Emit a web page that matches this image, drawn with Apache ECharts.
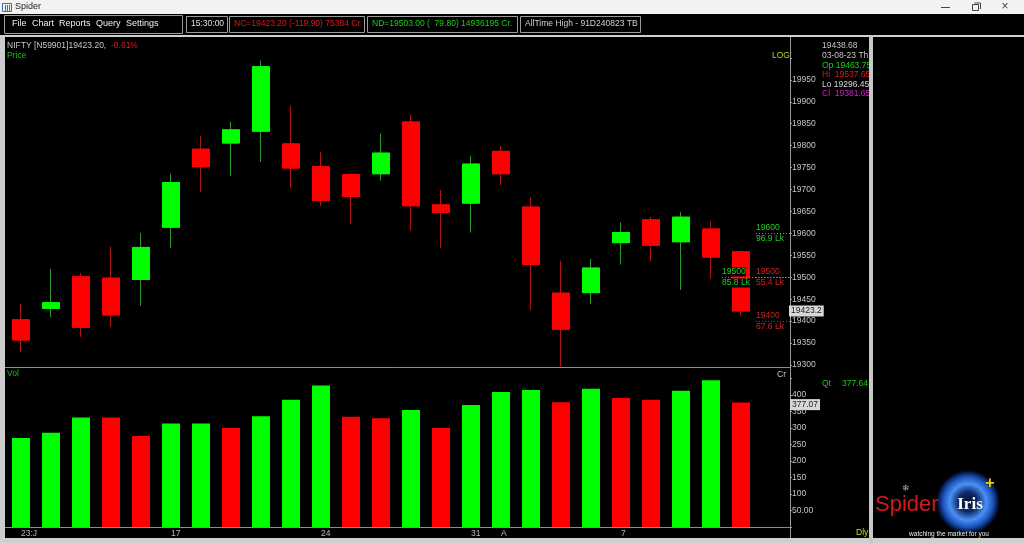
<!DOCTYPE html>
<html>
<head>
<meta charset="utf-8">
<title>Spider</title>
<script src="https://cdn.jsdelivr.net/npm/echarts@6/dist/echarts.min.js"></script>
<style>
html, body { margin: 0; padding: 0; background: #000; }
#main { width: 1024px; height: 543px; }
</style>
</head>
<body>
<div id="main"></div>
<script>
// NIFTY daily candles, 10 Jul 2023 - 11 Aug 2023
var days = ['10','11','12','13','14','17','18','19','20','21','24','25','26','27','28','31','1','2','3','4','7','8','9','10','11'];
var tickIdx = [0, 5, 10, 15, 16, 20];
var tickText = ['23:J', '17', '24', '31', 'A', '7'];

var opens  = [19403,19429,19501,19498,19495,19614,19792,19806,19833,19804,19752,19734,19736,19854,19665,19669,19787,19660,19463.75,19465,19579,19631,19581,19610,19558];
var closes = [19357,19442,19386,19414,19568,19716,19752,19836,19980,19749,19675,19684,19783,19663,19648,19758,19736,19529,19381.65,19521,19602,19573,19637,19546,19423.2];
var lows   = [19330,19409,19364,19387,19435,19567,19694,19731,19763,19704,19663,19621,19720,19606,19567,19602,19710,19425,19296.45,19439,19529,19536,19471,19497,19413];
var highs  = [19439,19519,19510,19570,19601,19736,19822,19855,19994,19891,19786,19738,19828,19871,19699,19777,19799,19682,19537.65,19542,19625,19638,19649,19627,19558];

// volume in Cr, and whether the bar is drawn as up (1) or down (0)
var volCr = [270,286,332,332,276,314,314,300,336,386,429,334,330,355,300,370,409,415,378,419,391,386,413,445,377.07];
var volUp = [1,1,1,0,0,1,1,0,1,1,1,0,0,1,0,1,1,1,0,1,0,0,1,1,0];

// traded-quantity levels at the right edge
var levelPrice = [19600, 19500, 19500, 19400];
var levelQty   = ['96.9 Lk', '85.8 Lk', '55.4 Lk', '67.6 Lk'];
var levelBuy   = [1, 1, 0, 0];

var infoIdx = 18;   // 03-08-23 candle shown in the info box
var FONT = 'Liberation Sans, Arial, sans-serif';
var UP = '#00ff00', DN = '#ff0000';

var cats = days.concat(['']);
var ohlc = [], bodies = [];
for (var i = 0; i < days.length; i++) {
  ohlc.push([opens[i], closes[i], lows[i], highs[i]]);
  bodies.push([opens[i], closes[i], Math.min(opens[i], closes[i]), Math.max(opens[i], closes[i])]);
}

var chart = echarts.init(document.getElementById('main'));

var option = {
  backgroundColor: '#000',
  animation: false,
  grid: [
    { left: 6, right: 238, top: 36, height: 329 },
    { left: 6, right: 238, top: 369, height: 158 }
  ],
  xAxis: [
    { type: 'category', gridIndex: 0, data: cats, show: false },
    {
      type: 'category', gridIndex: 1, data: cats,
      axisLine: { show: false }, axisTick: { show: false },
      axisLabel: {
        interval: 0, align: 'left', margin: 2, color: '#b8b8b8',
        fontFamily: FONT, fontSize: 8.5,
        formatter: function (v, idx) {
          var k = tickIdx.indexOf(idx);
          return k >= 0 ? tickText[k] : '';
        }
      }
    }
  ],
  yAxis: [
    {
      type: 'value', gridIndex: 0, position: 'right', offset: 4,
      min: 19300, max: 20050, interval: 50,
      splitLine: { show: false }, axisLine: { show: false },
      axisTick: { show: true, length: 2, lineStyle: { color: '#9a9a9a' } },
      axisLabel: {
        margin: 2, color: '#c4c4c4', fontFamily: FONT, fontSize: 8.5,
        formatter: function (v) { return v > 19950 ? '' : String(v); }
      }
    },
    {
      type: 'value', gridIndex: 1, position: 'right', offset: 4,
      min: 0, max: 479, interval: 50,
      splitLine: { show: false }, axisLine: { show: false },
      axisTick: { show: true, length: 2, lineStyle: { color: '#9a9a9a' } },
      axisLabel: {
        margin: 2, color: '#c4c4c4', fontFamily: FONT, fontSize: 8.5, showMaxLabel: false,
        formatter: function (v) {
          if (v === 0 || v > 400) return '';
          return v === 50 ? '50.00' : String(v);
        }
      }
    }
  ],
  series: [
    {
      type: 'candlestick', xAxisIndex: 0, yAxisIndex: 0, data: ohlc,
      barWidth: 18, clip: false,
      itemStyle: { color: UP, color0: DN, borderColor: '#2a9a2a', borderColor0: '#b01414', borderWidth: 1 }
    },
    {
      type: 'candlestick', xAxisIndex: 0, yAxisIndex: 0, data: bodies,
      barWidth: 18, clip: false,
      itemStyle: { color: UP, color0: DN, borderColor: UP, borderColor0: DN, borderWidth: 1 }
    },
    {
      type: 'bar', xAxisIndex: 1, yAxisIndex: 1, barWidth: 18,
      data: volCr.map(function (v, i) {
        return { value: v, itemStyle: { color: volUp[i] ? UP : DN } };
      })
    }
  ]
};
chart.setOption(option);

function txt(x, y, s, fill, size, extra, z) {
  var st = { text: s, fill: fill, font: (size || 8.5) + 'px ' + FONT, align: 'left', verticalAlign: 'middle' };
  if (extra) for (var k in extra) st[k] = extra[k];
  return { type: 'text', x: x, y: y, silent: true, z: z || 30, style: st };
}
function rect(x, y, w, h, fill, z, stroke) {
  return { type: 'rect', silent: true, z: z || 1, shape: { x: x, y: y, width: w, height: h },
    style: stroke ? { fill: 'none', stroke: stroke, lineWidth: 1 } : { fill: fill } };
}
function line(x1, y1, x2, y2, color, z, dash) {
  return { type: 'line', silent: true, z: z || 5, shape: { x1: x1, y1: y1, x2: x2, y2: y2 },
    style: { stroke: color, lineWidth: 1, lineDash: dash || null } };
}

var g = [];
// window title bar
g.push(rect(0, 0, 1024, 14, '#f2f2f2', 40));
g.push(rect(2.5, 3.5, 9, 8, null, 41, '#3a6fc0'));
g.push(line(5.5, 5, 5.5, 11, '#3a6fc0', 41), line(7.5, 5, 7.5, 11, '#3a6fc0', 41), line(9.5, 5, 9.5, 11, '#3a6fc0', 41));
g.push(txt(15, 7, 'Spider', '#222', 9, null, 45));
g.push(line(941, 7.5, 950, 7.5, '#444', 41));
g.push(rect(972.5, 4.5, 6, 6, null, 41, '#444'), line(974.5, 3, 980.5, 3, '#444', 41), line(980.5, 3, 980.5, 9, '#444', 41));
g.push(txt(1005, 7, '×', '#444', 12, { align: 'center' }, 45));

// menu / status bar
g.push(rect(0, 14, 1024, 21, '#000', 40));
g.push(rect(4.5, 15.5, 178, 18, null, 41, '#9a9a9a'));
g.push(rect(186.5, 16.5, 41, 16, null, 41, '#9a9a9a'));
g.push(rect(229.5, 16.5, 135, 16, null, 41, '#9a9a9a'));
g.push(rect(367.5, 16.5, 150, 16, null, 41, '#9a9a9a'));
g.push(rect(520.5, 16.5, 120, 16, null, 41, '#9a9a9a'));
var menu = ['File', 'Chart', 'Reports', 'Query', 'Settings'];
var menuX = [12, 32, 59, 96, 126];
menu.forEach(function (m, i) { g.push(txt(menuX[i], 24, m, '#f0f0f0', 9, null, 45)); });
g.push(txt(191, 24, '15:30:00', '#e0e0e0', 8.5, null, 45));
g.push(txt(234, 24, 'NC=19423.20 (-119.90) 75384 Cr.', '#e01818', 8.5, null, 45));
g.push(txt(372, 24, 'ND=19503.00 (  79.80) 14936195 Cr.', '#18d018', 8.5, null, 45));
g.push(txt(525, 24, 'AllTime High - 91D240823 TB', '#d0d0d0', 8.5, null, 45));
g.push(rect(0, 35, 1024, 2, '#cfcfcf', 40));

// frame
g.push(rect(0, 35, 5, 508, '#cccccc', 40));
g.push(rect(0, 538, 1024, 5, '#cfcfcf', 40));
g.push(rect(869, 35, 4, 508, '#c8c8c8', 40));
g.push(rect(873, 37, 151, 501, '#000', 39));
g.push(line(5, 367.5, 790, 367.5, '#8c8c8c', 6));
g.push(line(5, 527.5, 790, 527.5, '#8c8c8c', 6));
g.push(line(790.5, 37, 790.5, 538, '#9a9a9a', 6));

// panel captions
g.push(txt(7, 46, 'NIFTY [N59901]' + closes[closes.length - 1].toFixed(2) + ',', '#c4c4c4'));
g.push(txt(111, 46, '-0.61%', '#e01818'));
g.push(txt(7, 56, 'Price', '#18c018'));
g.push(txt(772, 56, 'LOG', '#c8c820'));
g.push(txt(7, 374, 'Vol', '#18c018'));
g.push(txt(777, 375, 'Cr', '#c4c4c4'));
g.push(txt(856, 533, 'Dly', '#d8d820'));
g.push(txt(822, 384, 'Qt', '#18d018'));
g.push(txt(842, 384, '377.64', '#18d018'));

// info box for the selected candle
g.push(txt(822, 46, '19438.68', '#c4c4c4'));
g.push(txt(822, 56, '03-08-23 Th', '#c4c4c4'));
g.push(txt(822, 66, 'Op ' + opens[infoIdx].toFixed(2), '#18d018'));
g.push(txt(822, 75, 'Hi  ' + highs[infoIdx].toFixed(2), '#e01818'));
g.push(txt(822, 85, 'Lo ' + lows[infoIdx].toFixed(2), '#d8d8d8'));
g.push(txt(822, 94, 'Cl  ' + closes[infoIdx].toFixed(2), '#d020d0'));

// logo
g.push({ type: 'circle', silent: true, z: 42, shape: { cx: 968, cy: 502, r: 33 },
  style: { fill: new echarts.graphic.RadialGradient(0.5, 0.5, 0.5, [
    { offset: 0, color: '#06102a' }, { offset: 0.3, color: '#0e2a6a' },
    { offset: 0.55, color: '#4a90f4' }, { offset: 0.75, color: '#1e56c0' },
    { offset: 0.9, color: '#061a4a' }, { offset: 1, color: 'rgba(0,0,0,0)' }]) } });
var lg = [
  txt(875, 505, 'Spider', '#d81818', 22),
  txt(906, 489, '❄', '#b0b0b0', 9, { align: 'center' }),
  txt(970, 505, 'Iris', '#ffffff', 17, { align: 'center', font: 'bold 17px Liberation Serif, serif' }),
  txt(990, 484, '+', '#f0d000', 16, { align: 'center', font: 'bold 16px ' + FONT }),
  txt(949, 534, 'watching the market for you', '#e8e8e8', 6.5, { align: 'center' })
];
lg.forEach(function (e) { e.z = 43; g.push(e); });

// price-level labels and last-value boxes, placed with the axis scales
var hasSell = function (p) {
  for (var j = 0; j < levelPrice.length; j++) if (levelPrice[j] === p && !levelBuy[j]) return true;
  return false;
};
levelPrice.forEach(function (p, i) {
  var y = Math.round(chart.convertToPixel({ yAxisIndex: 0 }, p)) + 0.5;
  var lx = (levelBuy[i] && hasSell(p)) ? 722 : 756;
  var col = levelBuy[i] ? '#22cc22' : '#d82020';
  g.push(line(lx, y, 790, y, col, 8, [1, 2]));
  g.push(txt(lx, y - 1, String(p), col, 8.5, { verticalAlign: 'bottom', backgroundColor: '#000' }));
  g.push(txt(lx, y + 1, levelQty[i], col, 8.5, { verticalAlign: 'top', backgroundColor: '#000' }));
});
var lastPrice = closes[closes.length - 1];
var lastVol = volCr[volCr.length - 1];
var yp = chart.convertToPixel({ yAxisIndex: 0 }, lastPrice);
g.push(txt(789, yp, String(lastPrice), '#202020', 8.5, { backgroundColor: '#d8d8d8', padding: [1, 2, 1, 2] }));
var yv = chart.convertToPixel({ yAxisIndex: 1 }, lastVol);
g.push(txt(790, yv + 2, String(lastVol), '#202020', 8.5, { backgroundColor: '#d8d8d8', padding: [1, 2, 1, 2] }));

chart.setOption({ graphic: g });
</script>
</body>
</html>
